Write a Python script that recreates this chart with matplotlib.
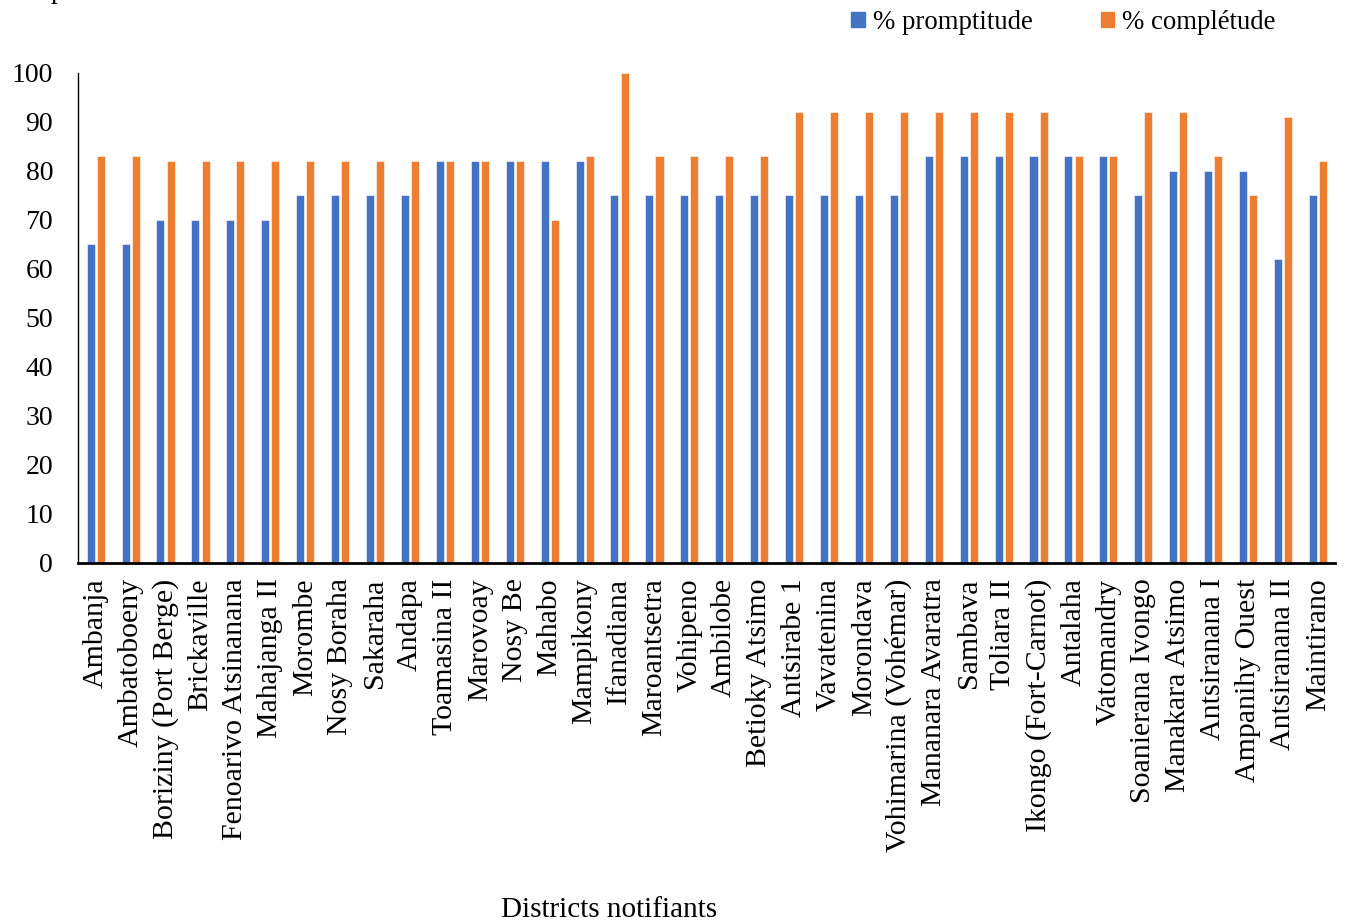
import matplotlib
matplotlib.use("Agg")
from matplotlib import pyplot as plt
from matplotlib.patches import Patch
import numpy as np

districts = ["Ambanja", "Ambatoboeny", "Boriziny (Port Berge)", "Brickaville",
             "Fenoarivo Atsinanana", "Mahajanga II", "Morombe", "Nosy Boraha",
             "Sakaraha", "Andapa", "Toamasina II", "Marovoay", "Nosy Be", "Mahabo",
             "Mampikony", "Ifanadiana", "Maroantsetra", "Vohipeno", "Ambilobe",
             "Betioky Atsimo", "Antsirabe 1", "Vavatenina", "Morondava",
             "Vohimarina (Vohémar)", "Mananara Avaratra", "Sambava", "Toliara II",
             "Ikongo (Fort-Carnot)", "Antalaha", "Vatomandry", "Soanierana Ivongo",
             "Manakara Atsimo", "Antsiranana I", "Ampanihy Ouest", "Antsiranana II",
             "Maintirano"]
promptitude = [65, 65, 70, 70, 70, 70, 75, 75, 75, 75, 82, 82, 82, 82, 82, 75, 75, 75,
               75, 75, 75, 75, 75, 75, 83, 83, 83, 83, 83, 83, 75, 80, 80, 80, 62, 75]
completude = [83, 83, 82, 82, 82, 82, 82, 82, 82, 82, 82, 82, 82, 70, 83, 100, 83, 83,
              83, 83, 92, 92, 92, 92, 92, 92, 92, 92, 83, 83, 92, 92, 83, 75, 91, 82]

plt.rcParams['font.family'] = ['Liberation Serif', 'DejaVu Serif']

blue = '#4472C4'
orange = '#ED7D31'

fig = plt.figure(figsize=(13.46, 9.24), dpi=100)
ax = fig.add_axes([0.058, 0.3907, 0.934, 0.5303])

x = np.arange(len(districts))
w = 0.23
ax.bar(x - 0.14, promptitude, w, color=blue, edgecolor='white', linewidth=0.4)
ax.bar(x + 0.15, completude, w, color=orange, edgecolor='white', linewidth=0.4)

ax.set_xlim(-0.5, len(districts) - 0.5)
ax.set_ylim(0, 100)
ax.set_yticks(range(0, 101, 10))
ax.set_xticks(x)
ax.set_xticklabels(districts, rotation=90, va='top', ha='center')
ax.tick_params(axis='both', length=0)
ax.tick_params(axis='x', pad=11, labelsize=21.5)
ax.tick_params(axis='y', pad=18, labelsize=20)

ax.spines['top'].set_visible(False)
ax.spines['right'].set_visible(False)
ax.spines['left'].set_linewidth(1.0)
ax.spines['bottom'].set_linewidth(2.0)

handles = [Patch(color=blue, label='% promptitude'),
           Patch(color=orange, label='% complétude')]
fig.legend(handles=handles, loc='upper left', bbox_to_anchor=(0.6144, 1.0153),
           ncol=2, frameon=False, fontsize=19.3, handlelength=0.5,
           handleheight=0.5, handletextpad=0.3, columnspacing=2.55)

fig.text(609 / 1346, 0.0076, 'Districts notifiants', ha='center', va='baseline',
         fontsize=21)
# header cut off at the top of the original image
fig.text(58 / 1346, 1.002, 'p', ha='center', va='baseline', fontsize=20)

fig.savefig('out.png', dpi=100)
